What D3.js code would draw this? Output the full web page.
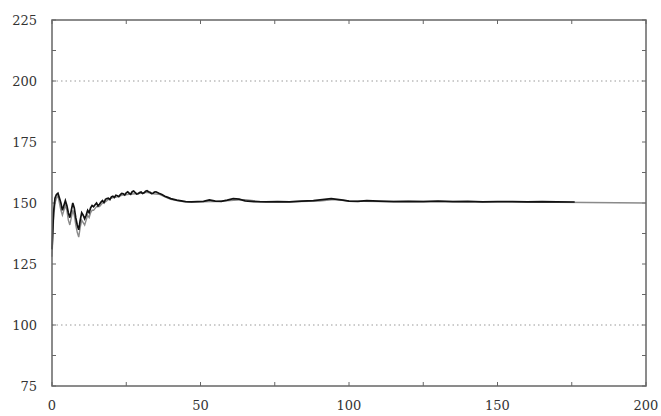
<!DOCTYPE html>
<html><head><meta charset="utf-8">
<script src="https://cdn.jsdelivr.net/npm/d3@7/dist/d3.min.js"></script>
<style>body{margin:0;background:#fff}</style></head>
<body><svg id="c" width="661" height="416"></svg>
<script>
const xTicks = [0, 50, 100, 150, 200];
const yTicks = [75, 100, 125, 150, 175, 200, 225];
const gridValues = [100, 200];
const blackX = [0,0.5,1,1.5,2,2.5,3,3.5,4,4.5,5,5.5,6,6.5,7,7.5,8,8.5,9,9.5,10,10.5,11,11.5,12,12.5,13,13.5,14,14.5,15,15.5,16,16.5,17,17.5,18,18.5,19,19.5,20,20.5,21,21.5,22,22.5,23,23.5,24,24.5,25,25.5,26,26.5,27,27.5,28,28.5,29,29.5,30,30.5,31,31.5,32,32.5,33,33.5,34,34.5,35,36,37,38,39,40,41,42,43,44,45,47,49,51,53,55,57,59,61,63,65,68,72,76,80,84,88,91,94,96,98,100,103,106,110,115,120,125,130,135,140,145,150,155,160,165,170,176];
const blackY = [131,146,152,153.5,154,152,150,147,149,151,149,146,144,147,150,148,144,141,139,143,146,145,143.5,145,147,146,148,149,148.5,149.3,150,148.8,149.5,150.4,151,150.2,151.5,151.8,152,151.4,152.5,152.8,152.3,153.2,153,152.6,153.4,153.9,153.8,153.3,154.2,154.6,154,153.6,154.6,154.9,154.3,153.7,153.8,154.3,154.5,153.9,154.2,154.8,155,154.6,154.4,153.9,154,154.5,154.6,154,153.5,152.8,152.3,151.8,151.5,151.2,151,150.8,150.6,150.5,150.6,150.7,151.3,150.8,150.7,151.2,151.8,151.6,150.9,150.6,150.5,150.6,150.5,150.8,151,151.4,151.8,151.5,151.2,150.8,150.7,151,150.8,150.6,150.7,150.6,150.8,150.6,150.7,150.5,150.6,150.6,150.5,150.6,150.5,150.4];
const greyX = [0,0.5,1,1.5,2,2.5,3,3.5,4,4.5,5,5.5,6,6.5,7,7.5,8,8.5,9,9.5,10,10.5,11,11.5,12,12.5,13,13.5,14,15,16,17,18,19,20,22,24,26,28,30,32,34,36,38,40,42,44,46,50,55,60,65,70,80,90,95,100,110,120,130,140,150,160,170,180,190,200];
const greyY = [128,143,150,152,153,150,147,145,147,149,147,143,141,144,147,145,141,138,136,140,143,142,141,143,145,144,146,147,147,148.5,148.5,150,150.5,151.5,152,152.5,153.3,153.6,153.8,154,154.4,153.8,153.6,152.5,151.5,151,150.6,150.4,150.5,150.6,151,151.4,150.6,150.5,150.8,151.4,150.8,150.6,150.6,150.6,150.5,150.5,150.4,150.3,150.2,150.1,150];

const svg = d3.select('#c');
const L = 52, R = 646, T = 20, B = 386;
const x = d3.scaleLinear().domain([0, 200]).range([L, R]);
const y = d3.scaleLinear().domain([75, 225]).range([B, T]);

// grid
svg.selectAll('.grid').data(gridValues).enter().append('line')
  .attr('x1', L).attr('x2', R).attr('y1', d => y(d)).attr('y2', d => y(d))
  .attr('stroke', '#999').attr('stroke-width', 1).attr('stroke-dasharray', '1.5,3');

// ticks inward on all sides
const xt = d3.range(0, 201, 25), yt = d3.range(75, 225.1, 12.5);
const tk = 4, tc = '#666';
xt.forEach(v => {
  svg.append('line').attr('x1', x(v)).attr('x2', x(v)).attr('y1', B).attr('y2', B - tk).attr('stroke', tc);
  svg.append('line').attr('x1', x(v)).attr('x2', x(v)).attr('y1', T).attr('y2', T + tk).attr('stroke', tc);
});
yt.forEach(v => {
  svg.append('line').attr('y1', y(v)).attr('y2', y(v)).attr('x1', L).attr('x2', L + tk).attr('stroke', tc);
  svg.append('line').attr('y1', y(v)).attr('y2', y(v)).attr('x1', R).attr('x2', R - tk).attr('stroke', tc);
});

// lines
const line = d3.line().x(d => x(d[0])).y(d => y(d[1]));
svg.append('path').datum(d3.zip(greyX, greyY)).attr('d', line)
  .attr('fill', 'none').attr('stroke', '#8a8a8a').attr('stroke-width', 1.4);
svg.append('path').datum(d3.zip(blackX, blackY)).attr('d', line)
  .attr('fill', 'none').attr('stroke', '#111').attr('stroke-width', 1.7);

// frame
svg.append('rect').attr('x', L).attr('y', T).attr('width', R - L).attr('height', B - T)
  .attr('fill', 'none').attr('stroke', '#666').attr('stroke-width', 1.5);

// labels
const font = '"DejaVu Serif", "Liberation Serif", serif';
svg.selectAll('.yl').data(yTicks).enter().append('text')
  .attr('x', 37).attr('y', d => y(d)).attr('dy', '0.35em').attr('text-anchor', 'end')
  .attr('font-family', font).attr('font-size', 13).attr('fill', '#333').text(d => d);
svg.selectAll('.xl').data(xTicks).enter().append('text')
  .attr('x', d => x(d)).attr('y', 410).attr('text-anchor', 'middle')
  .attr('font-family', font).attr('font-size', 13).attr('fill', '#333').text(d => d);
</script></body></html>
